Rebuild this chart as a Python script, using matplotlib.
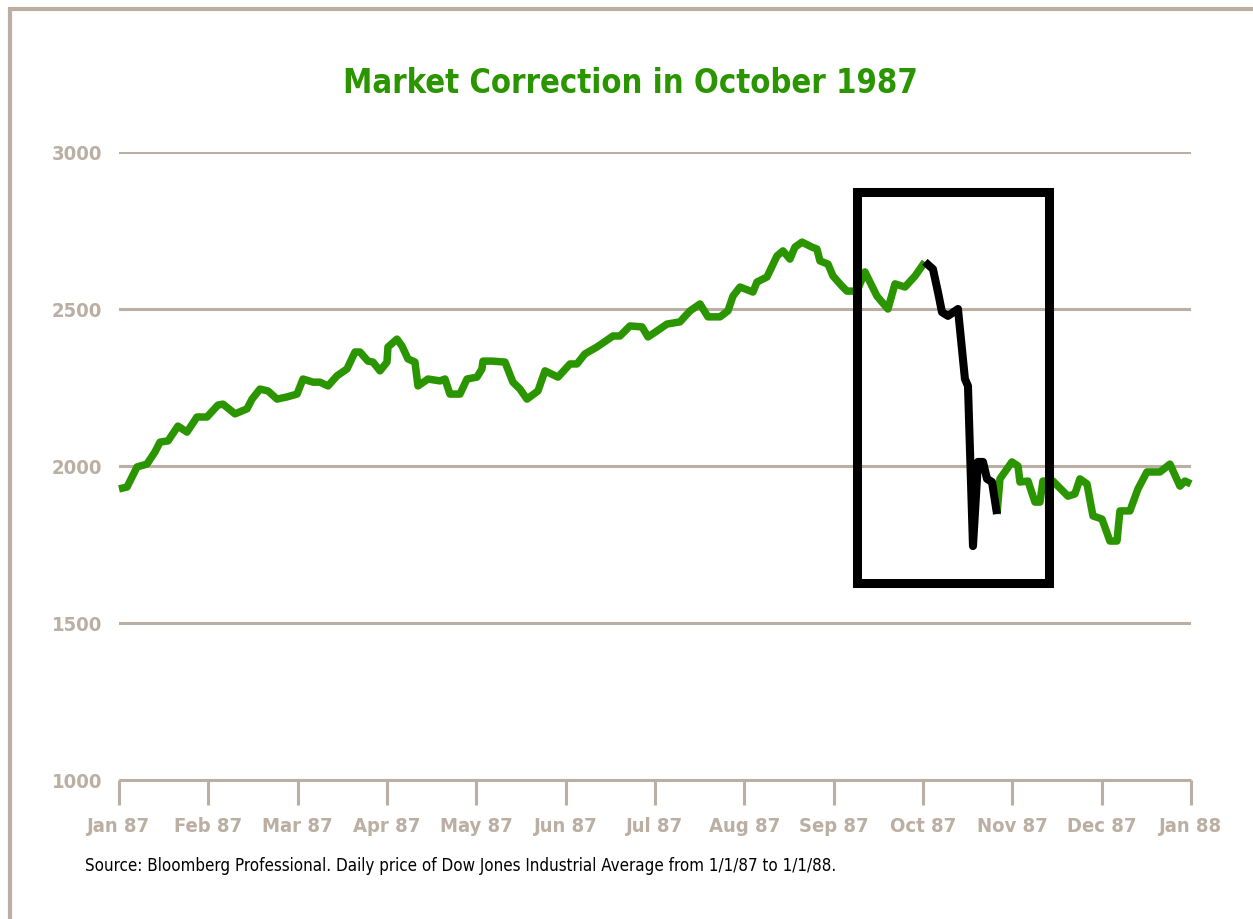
import numpy as np
import matplotlib
matplotlib.use("Agg")
import matplotlib.pyplot as plt
from matplotlib import font_manager as fm
from matplotlib.patches import Rectangle

# ---------- Data ----------
# x = months since 1 Jan 1987, y = Dow Jones Industrial Average close
months = [
    0.000, 0.090, 0.202, 0.313, 0.403, 0.459, 0.549, 0.660, 0.761, 0.873,
    0.985, 1.108, 1.164, 1.299, 1.433, 1.489, 1.578, 1.668, 1.769, 1.881,
    1.993, 2.060, 2.172, 2.250, 2.340, 2.440, 2.552, 2.642, 2.698, 2.787,
    2.843, 2.922, 3.000, 3.011, 3.112, 3.168, 3.235, 3.313, 3.347, 3.459,
    3.593, 3.649, 3.705, 3.817, 3.896, 4.007, 4.063, 4.075, 4.175, 4.321,
    4.410, 4.489, 4.567, 4.690, 4.769, 4.914, 5.049, 5.127, 5.216, 5.351,
    5.530, 5.608, 5.720, 5.855, 5.922, 6.022, 6.134, 6.280, 6.392, 6.504,
    6.593, 6.728, 6.817, 6.873, 6.952, 7.097, 7.142, 7.254, 7.366, 7.433,
    7.511, 7.567, 7.646, 7.758, 7.813, 7.847, 7.937, 7.993, 8.093, 8.149,
    8.261, 8.351, 8.485, 8.608, 8.687, 8.799, 8.911, 9.022, 9.112, 9.168,
    9.213, 9.280, 9.392, 9.470, 9.504, 9.560, 9.616, 9.672, 9.717, 9.773,
    9.829, 9.862, 9.996, 10.064, 10.086, 10.176, 10.254, 10.310, 10.343, 10.455,
    10.623, 10.701, 10.757, 10.836, 10.903, 11.004, 11.093, 11.172, 11.205, 11.317,
    11.407, 11.507, 11.653, 11.765, 11.877, 11.933, 12.000,
]
dow = [
    1927, 1933, 1997, 2006, 2045, 2076, 2080, 2127, 2108, 2156,
    2156, 2194, 2197, 2166, 2182, 2213, 2245, 2239, 2213, 2220,
    2229, 2277, 2267, 2267, 2255, 2287, 2309, 2363, 2363, 2334,
    2331, 2303, 2331, 2379, 2404, 2382, 2341, 2331, 2255, 2277,
    2271, 2277, 2229, 2229, 2277, 2283, 2309, 2334, 2334, 2331,
    2267, 2245, 2213, 2239, 2303, 2283, 2325, 2325, 2357, 2379,
    2414, 2414, 2446, 2443, 2411, 2430, 2452, 2459, 2494, 2516,
    2475, 2475, 2494, 2541, 2570, 2554, 2586, 2602, 2669, 2685,
    2659, 2697, 2713, 2697, 2691, 2653, 2643, 2605, 2573, 2557,
    2557, 2618, 2541, 2500, 2580, 2570, 2605, 2650, 2627, 2554,
    2490, 2478, 2500, 2277, 2255, 1745, 2013, 2013, 1959, 1949,
    1847, 1959, 2013, 2000, 1949, 1952, 1885, 1885, 1952, 1952,
    1904, 1911, 1959, 1943, 1841, 1831, 1761, 1761, 1857, 1857,
    1927, 1981, 1981, 2006, 1936, 1952, 1943,
]
crash_start, crash_end = 9.022, 9.829   # highlighted (black) part of the line
box_x = (8.26, 10.41)                   # months
box_y = (1627, 2874)                    # index level

tick_labels = ["Jan 87", "Feb 87", "Mar 87", "Apr 87", "May 87", "Jun 87",
               "Jul 87", "Aug 87", "Sep 87", "Oct 87", "Nov 87", "Dec 87", "Jan 88"]
y_ticks = [1000, 1500, 2000, 2500, 3000]

title = "Market Correction in October 1987"
source = ("Source: Bloomberg Professional. Daily price of Dow Jones Industrial "
          "Average from 1/1/87 to 1/1/88.")

# ---------- Style ----------
GREEN = "#2b9500"
TAN = "#bbaea2"

# the original uses a condensed grotesque; take a condensed face if one is installed
have_cond = any("Condensed" in f.fname or "Narrow" in f.fname
                for f in fm.fontManager.ttflist)
plt.rcParams["font.family"] = ["DejaVu Sans"]
if have_cond:
    plt.rcParams["font.stretch"] = "condensed"
    sz_title, sz_tick, sz_src = 23.5, 14.5, 12.2
else:
    plt.rcParams["font.family"] = ["Liberation Sans", "DejaVu Sans"]
    sz_title, sz_tick, sz_src = 24, 13, 11

fig = plt.figure(figsize=(12.53, 9.2), dpi=100)
ax = fig.add_axes([0.09497, 0.15109, 0.8555, 0.68261])

# outer frame (only left/top edges fall inside the image)
fig.patches.append(Rectangle((0.0076, -0.5), 2.0, 1.4886, transform=fig.transFigure,
                             fill=False, edgecolor=TAN, linewidth=3, zorder=0))

t = np.asarray(months)
v = np.asarray(dow)
pre = t <= crash_start
mid = (t >= crash_start) & (t <= crash_end)
post = t >= crash_end

for m in (pre, post):
    ax.plot(t[m], v[m], color=GREEN, lw=5.4, solid_capstyle="butt",
            solid_joinstyle="round", zorder=3, clip_on=False)
ax.plot(t[mid], v[mid], color="black", lw=5.8, solid_capstyle="butt",
        solid_joinstyle="round", zorder=4, clip_on=False)

ax.add_patch(Rectangle((box_x[0], box_y[0]), box_x[1] - box_x[0], box_y[1] - box_y[0],
                       fill=False, edgecolor="black", linewidth=6.5,
                       joinstyle="miter", zorder=5, clip_on=False))

ax.set_xlim(0, 12)
ax.set_ylim(1000, 3000)
ax.set_xticks(range(13))
ax.set_xticklabels(tick_labels)
ax.set_yticks(y_ticks)
ax.set_yticklabels([str(y) for y in y_ticks])

for s in ("top", "right", "left"):
    ax.spines[s].set_visible(False)
ax.spines["bottom"].set_color(TAN)
ax.spines["bottom"].set_linewidth(2.2)
ax.spines["bottom"].set_capstyle("butt")

ax.yaxis.grid(True, color=TAN, linewidth=2.2)
ax.set_axisbelow(True)
ax.tick_params(axis="y", length=0, pad=12, labelsize=sz_tick, labelcolor=TAN)
ax.tick_params(axis="x", length=18, width=2.2, color=TAN, pad=8,
               labelsize=sz_tick, labelcolor=TAN)
for lab in ax.get_xticklabels() + ax.get_yticklabels():
    lab.set_fontweight("bold")

fig.text(0.5028, 0.899, title, ha="center", va="baseline", color=GREEN,
         fontsize=sz_title, fontweight="bold")
fig.text(0.0678, 0.0533, source, ha="left", va="baseline", color="black",
         fontsize=sz_src)

fig.savefig("out.png", dpi=100)
